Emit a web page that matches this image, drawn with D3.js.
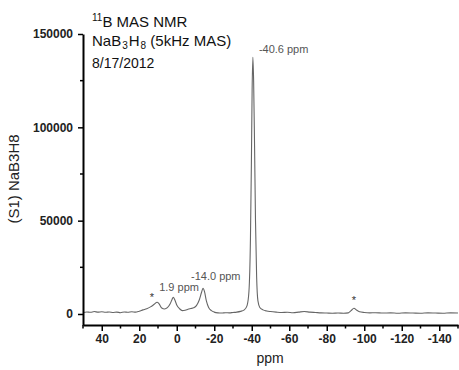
<!DOCTYPE html>
<html>
<head>
<meta charset="utf-8">
<script src="https://cdn.jsdelivr.net/npm/d3@7"></script>
<style>
  body { margin: 0; background: #fff; }
  svg { display: block; font-family: "Liberation Sans", Arial, sans-serif; }
</style>
</head>
<body>
<div id="chart"></div>
<script>
// chemical shift (ppm) and intensity
const ppm = [50, 48, 46, 44, 42, 40, 38, 36, 34, 32, 30, 28, 26, 24, 22, 20, 18, 16, 14, 12,
  10.5, 9.5, 8, 6.5, 5, 3.5, 2.5, 1.9, 1, 0, -1.5, -3, -4.5, -6, -7.5, -9, -10.5, -12, -13.2, -14,
  -14.8, -15.8, -17, -18.5, -20, -22, -24, -26, -28, -30, -32, -34, -36, -37.5, -38.5, -39.3, -39.8, -40.2, -40.6, -41,
  -41.5, -42, -42.6, -43.3, -44.3, -46, -48, -50, -53, -56, -59, -62, -65, -68, -71, -74, -77, -80, -83, -86,
  -89, -91.5, -93, -94.5, -96, -97.5, -100, -103, -106, -110, -114, -118, -122, -126, -130, -134, -138, -142, -146, -150];
const intensity = [800, 1100, 900, 1300, 1000, 1200, 900, 1100, 800, 1000, 700, 1100, 900, 1200, 1000, 1500, 2200, 2800, 3800, 5200,
  6300, 5600, 3200, 2700, 3400, 5500, 7800, 9000, 7500, 4800, 2800, 1800, 2000, 2500, 2900, 3300, 4500, 7500, 11500, 13800,
  12000, 7000, 3500, 1800, 1000, 600, 500, 700, 600, 800, 1000, 1400, 2200, 4500, 12000, 40000, 80000, 120000, 137500, 125000,
  90000, 50000, 20000, 7000, 3500, 2200, 1600, 1300, 1000, 800, 900, 700, 1000, 1300, 1000, 800, 600, 500, 400, 500,
  400, 600, 1800, 3100, 2000, 1200, 800, 600, 700, 500, 600, 400, 600, 500, 400, 600, 500, 400, 600, 500];

const xTicks = [40, 20, 0, -20, -40, -60, -80, -100, -120, -140];
const xMinor = [50, 30, 10, -10, -30, -50, -70, -90, -110, -130, -150];
const yTicks = [0, 50000, 100000, 150000];
const yMinor = [25000, 75000, 125000];

const peakLabels = [
  { ppm: -40.6, y: 140000, dx: 6, text: "-40.6 ppm" },
  { ppm: 1.9, y: 12300, dx: -14, text: "1.9 ppm" },
  { ppm: -14.0, y: 18200, dx: -12, text: "-14.0 ppm" }
];
const stars = [{ ppm: 13.3, y: 7200 }, { ppm: -94.5, y: 5300 }];

const width = 459, height = 370;
const svg = d3.select("#chart").append("svg")
  .attr("width", width).attr("height", height);

const x = d3.scaleLinear().domain([50, -150]).range([83, 458]);
const y = d3.scaleLinear().domain([-5900, 150000]).range([325, 34]);

const data = ppm.map((p, i) => ({ p, v: intensity[i] }));

svg.append("path")
  .datum(data)
  .attr("fill", "none")
  .attr("stroke", "#666")
  .attr("stroke-width", 1.1)
  .attr("d", d3.line().x(d => x(d.p)).y(d => y(d.v)).curve(d3.curveMonotoneX));

// x axis
const gx = svg.append("g").attr("transform", "translate(0,325)");
gx.call(d3.axisBottom(x).tickValues(xTicks).tickFormat(d => String(d))
    .tickSize(6).tickSizeOuter(0).tickPadding(3))
  .call(g => g.select(".domain").attr("stroke", "#000").attr("stroke-width", 2))
  .call(g => g.selectAll(".tick line").attr("stroke", "#000").attr("stroke-width", 1.5))
  .call(g => g.selectAll("text").attr("font-size", 12).attr("font-weight", "bold").attr("fill", "#222"));
gx.append("g").selectAll("line").data(xMinor).join("line")
  .attr("x1", d => x(d)).attr("x2", d => x(d))
  .attr("y1", 0).attr("y2", 3.5).attr("stroke", "#000").attr("stroke-width", 1.5);

// y axis
const gy = svg.append("g").attr("transform", "translate(83,0)");
gy.call(d3.axisLeft(y).tickValues(yTicks).tickFormat(d3.format("d"))
    .tickSize(5).tickSizeOuter(0).tickPadding(5))
  .call(g => g.select(".domain").attr("stroke", "#000").attr("stroke-width", 2))
  .call(g => g.selectAll(".tick line").attr("stroke", "#000").attr("stroke-width", 1.5))
  .call(g => g.selectAll("text").attr("font-size", 12).attr("font-weight", "bold").attr("fill", "#222"));
gy.append("g").selectAll("line").data(yMinor).join("line")
  .attr("x1", 0).attr("x2", -3)
  .attr("y1", d => y(d)).attr("y2", d => y(d)).attr("stroke", "#000").attr("stroke-width", 1.5);

svg.append("text")
  .attr("x", 270).attr("y", 363)
  .attr("text-anchor", "middle").attr("font-size", 14).attr("fill", "#222")
  .text("ppm");

svg.append("text")
  .attr("transform", "translate(19,179) rotate(-90)")
  .attr("text-anchor", "middle").attr("font-size", 15).attr("fill", "#222")
  .text("(S1) NaB3H8");

// title block
const title = svg.append("g").attr("font-size", 15).attr("fill", "#111");
const t1 = title.append("text").attr("x", 92).attr("y", 27);
t1.append("tspan").attr("font-size", 10).attr("dy", -6).text("11");
t1.append("tspan").attr("dy", 6).text("B MAS NMR");
const t2 = title.append("text").attr("x", 92).attr("y", 46);
t2.append("tspan").text("NaB");
t2.append("tspan").attr("font-size", 10).attr("dx", 1).attr("dy", 3).text("3");
t2.append("tspan").attr("dx", 1).attr("dy", -3).text("H");
t2.append("tspan").attr("font-size", 10).attr("dx", 1).attr("dy", 3).text("8");
t2.append("tspan").attr("dy", -3).text(" (5kHz MAS)");
title.append("text").attr("x", 92).attr("y", 68).attr("font-size", 14).text("8/17/2012");

svg.append("g").selectAll("text").data(peakLabels).join("text")
  .attr("x", d => x(d.ppm) + d.dx).attr("y", d => y(d.y))
  .attr("font-size", 11).attr("fill", "#555")
  .text(d => d.text);

svg.append("g").selectAll("text").data(stars).join("text")
  .attr("x", d => x(d.ppm)).attr("y", d => y(d.y))
  .attr("text-anchor", "middle").attr("font-size", 11).attr("fill", "#333")
  .text("*");
</script>
</body>
</html>
